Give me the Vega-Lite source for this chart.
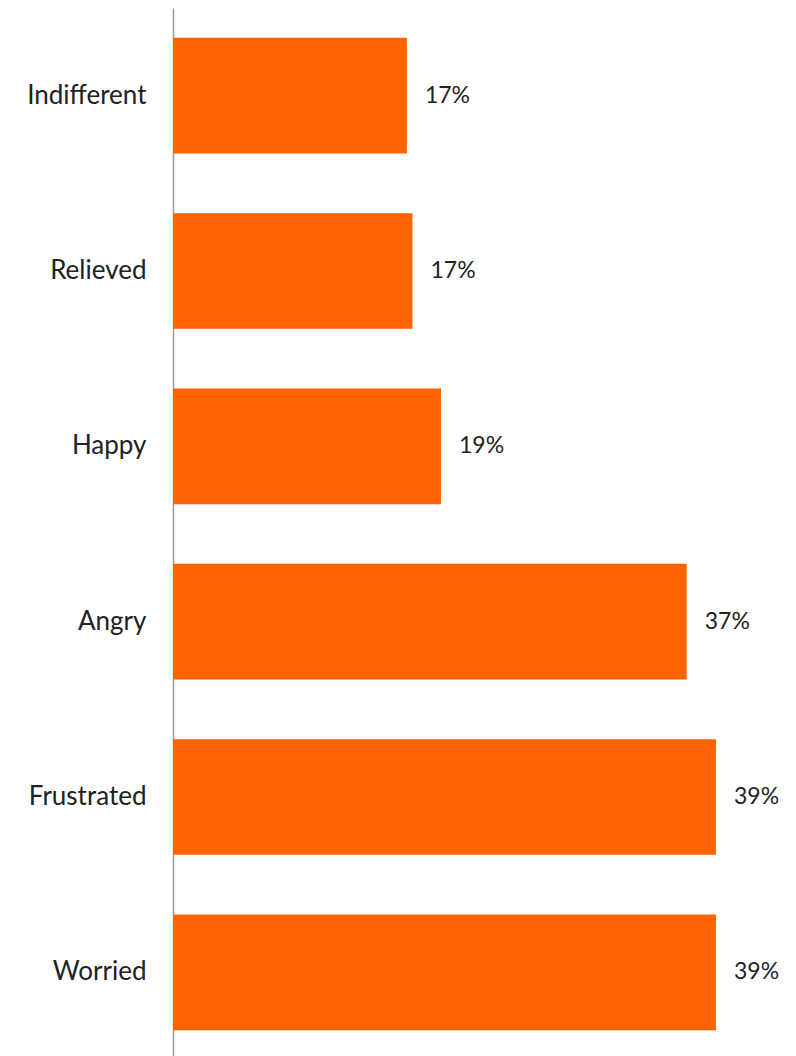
{
  "$schema": "https://vega.github.io/schema/vega-lite/v6.json",
  "width": 623,
  "height": 1052,
  "autosize": {"type": "none"},
  "padding": {"left": 173, "top": 8, "right": 0, "bottom": 0},
  "background": "white",
  "config": {"view": {"stroke": null}, "font": "Lato"},
  "data": {
    "values": [
      {"emotion": "Indifferent", "share": 16.8, "label": "17%"},
      {"emotion": "Relieved", "share": 17.2, "label": "17%"},
      {"emotion": "Happy", "share": 19.25, "label": "19%"},
      {"emotion": "Angry", "share": 36.9, "label": "37%"},
      {"emotion": "Frustrated", "share": 39.0, "label": "39%"},
      {"emotion": "Worried", "share": 39.0, "label": "39%"}
    ]
  },
  "encoding": {
    "y": {
      "field": "emotion",
      "type": "nominal",
      "sort": null,
      "scale": {"paddingInner": 0.34, "paddingOuter": 0.17},
      "axis": {
        "title": null,
        "ticks": false,
        "labelPadding": 27,
        "labelFontSize": 26,
        "labelColor": "#222222",
        "labelFont": "Lato",
        "domainColor": "#9a9a9a",
        "domainWidth": 1.5
      }
    },
    "x": {
      "field": "share",
      "type": "quantitative",
      "scale": {"domain": [0, 44.75], "nice": false},
      "axis": null
    }
  },
  "layer": [
    {"mark": {"type": "bar", "color": "#FF6200"}},
    {
      "mark": {"type": "text", "align": "left", "baseline": "middle", "dx": 18, "fontSize": 23, "color": "#222222", "font": "Lato"},
      "encoding": {"text": {"field": "label", "type": "nominal"}}
    }
  ]
}
